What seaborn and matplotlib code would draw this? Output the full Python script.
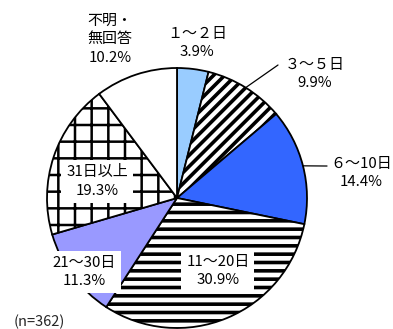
import numpy as np
import matplotlib
matplotlib.use("Agg")
import matplotlib.pyplot as plt
import seaborn as sns

# data
categories = ["１～２日", "３～５日", "６～10日", "11～20日", "21～30日", "31日以上", "不明・\n無回答"]
shares = [3.9, 9.9, 14.4, 30.9, 11.3, 19.3, 10.2]
note = "(n=362)"

# style per slice
colors = ["#99CCFF", "white", "#3366FF", "white", "#9999FF", "white", "white"]
hatches = [None, "///", None, "--", None, "+", None]
hatch_lw = [1, 2.6, 1, 2.6, 1, 1.8, 1]
# label centers (data units, pie radius = 1) and leader ends
label_xy = [(0.154, 1.19), (1.06, 0.954), (1.415, 0.19), (0.315, -0.56),
            (-0.715, -0.57), (-0.615, 0.127), (-0.515, 1.22)]
boxed = [False, False, False, True, True, True, False]
leader_end = [None, (0.777, 1.023), (1.154, 0.246), None, None, None, None]

sns.set_theme(style="white")
plt.rcParams["font.family"] = ["Noto Sans CJK JP", "DejaVu Sans"]

fig = plt.figure(figsize=(3.93, 3.29), dpi=100)
ax = fig.add_axes([0, 0, 1, 1])

wedges, _ = ax.pie(shares, colors=colors, startangle=90, counterclock=False,
                   radius=1.0, wedgeprops=dict(edgecolor="black", linewidth=1.3))
for w, h, lw in zip(wedges, hatches, hatch_lw):
    if h:
        w.set_hatch(h)
        if hasattr(w, "set_hatch_linewidth"):
            w.set_hatch_linewidth(lw)

for i, w in enumerate(wedges):
    txt = f"{categories[i]}\n{shares[i]}%"
    bbox = dict(facecolor="white", edgecolor="none", pad=3.5) if boxed[i] else None
    ax.text(label_xy[i][0], label_xy[i][1], txt, ha="center", va="center",
            fontsize=10.8, linespacing=1.4, bbox=bbox, color="black")
    if leader_end[i] is not None:
        mid = np.deg2rad((w.theta1 + w.theta2) / 2)
        x0, y0 = np.cos(mid), np.sin(mid)
        ax.plot([x0, leader_end[i][0]], [y0, leader_end[i][1]], color="black", lw=0.9)

ax.text(-1.26, -0.954, note, ha="left", va="center", fontsize=10.5)

ax.set_xlim(-177 / 130, (393 - 177) / 130)
ax.set_ylim(-(329 - 198) / 130, 198 / 130)
ax.set_aspect("auto")
ax.axis("off")

fig.savefig("out.png", dpi=100)
